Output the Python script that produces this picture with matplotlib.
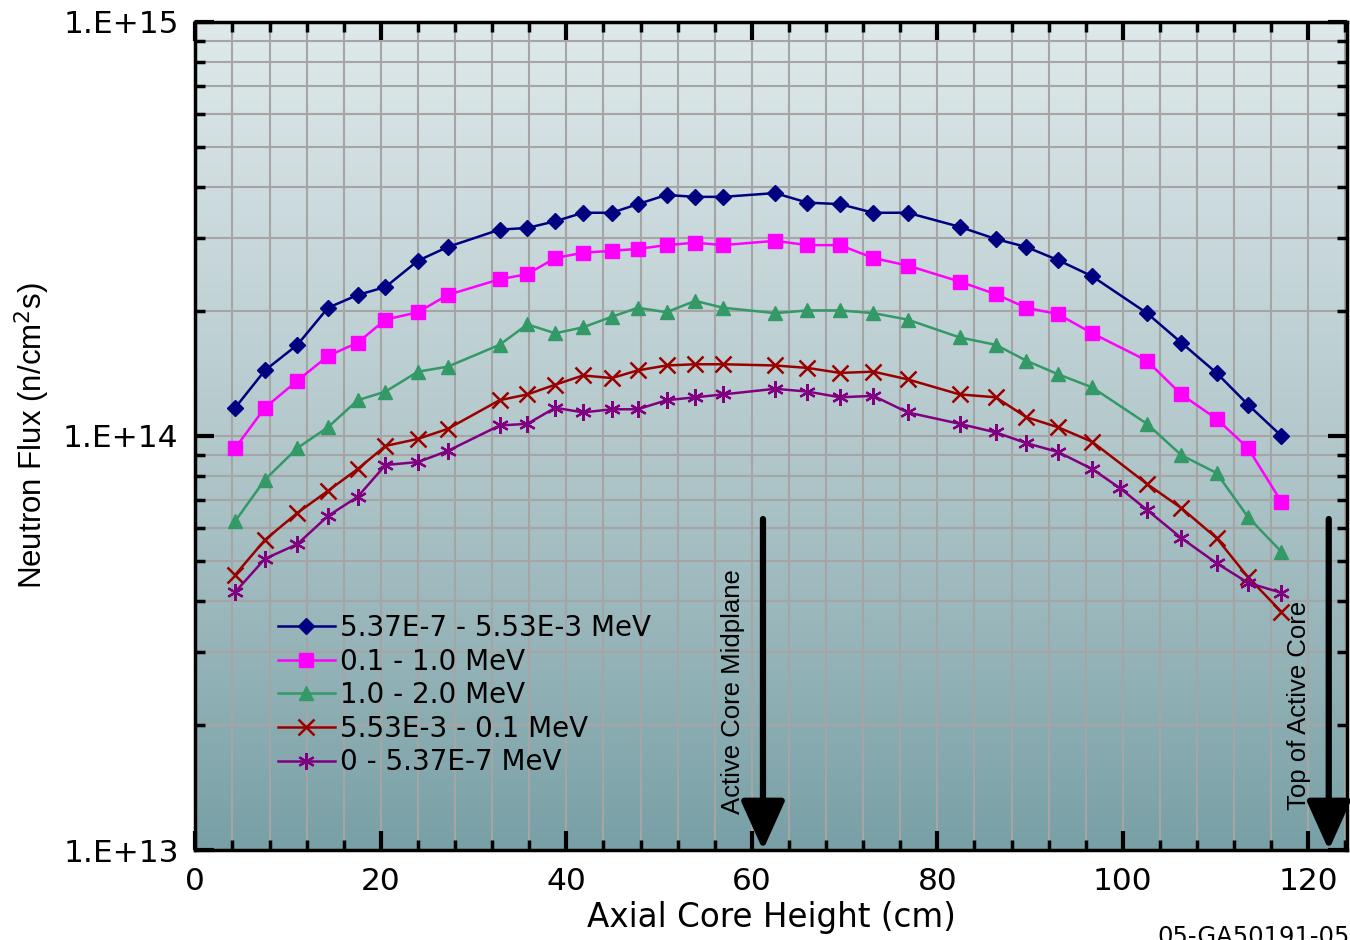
import numpy as np
import matplotlib
matplotlib.use('Agg')
import matplotlib.pyplot as plt
from matplotlib.ticker import MultipleLocator, LogLocator, NullFormatter
from matplotlib.colors import LinearSegmentedColormap

plt.rcParams['font.family'] = ['DejaVu Sans']
narrow = ['Liberation Sans', 'DejaVu Sans']

# axial positions (cm)
x = [4.3, 7.5, 11.0, 14.3, 17.5, 20.5, 24.0, 27.2, 32.8, 35.8, 38.8, 41.8,
     44.9, 47.7, 50.8, 53.9, 56.9, 62.5, 66.0, 69.5, 73.1, 76.8, 82.4, 86.3,
     89.6, 93.0, 96.7, 102.6, 106.3, 110.1, 113.5, 117.1]
x_thermal = x[:27] + [99.7] + x[27:]

# flux in n/cm2s
flux_epi = [1.17e14, 1.44e14, 1.66e14, 2.04e14, 2.19e14, 2.29e14, 2.65e14, 2.86e14,
            3.15e14, 3.18e14, 3.30e14, 3.46e14, 3.46e14, 3.63e14, 3.82e14, 3.78e14,
            3.78e14, 3.86e14, 3.66e14, 3.63e14, 3.46e14, 3.46e14, 3.20e14, 2.99e14,
            2.86e14, 2.66e14, 2.43e14, 1.98e14, 1.68e14, 1.42e14, 1.19e14, 1.00e14]
flux_01_1 = [9.35e13, 1.17e14, 1.36e14, 1.56e14, 1.68e14, 1.91e14, 1.99e14, 2.19e14,
             2.39e14, 2.46e14, 2.69e14, 2.77e14, 2.80e14, 2.83e14, 2.89e14, 2.93e14,
             2.89e14, 2.96e14, 2.89e14, 2.89e14, 2.69e14, 2.58e14, 2.36e14, 2.20e14,
             2.04e14, 1.97e14, 1.77e14, 1.52e14, 1.26e14, 1.10e14, 9.35e13, 6.93e13]
flux_1_2 = [6.23e13, 7.84e13, 9.35e13, 1.05e14, 1.22e14, 1.28e14, 1.43e14, 1.47e14,
            1.66e14, 1.86e14, 1.77e14, 1.83e14, 1.94e14, 2.04e14, 1.99e14, 2.12e14,
            2.04e14, 1.98e14, 2.01e14, 2.01e14, 1.98e14, 1.91e14, 1.73e14, 1.66e14,
            1.52e14, 1.41e14, 1.31e14, 1.07e14, 8.99e13, 8.14e13, 6.37e13, 5.25e13]
flux_553_01 = [4.62e13, 5.61e13, 6.52e13, 7.37e13, 8.32e13, 9.46e13, 9.84e13, 1.04e14,
               1.22e14, 1.26e14, 1.33e14, 1.40e14, 1.38e14, 1.44e14, 1.48e14, 1.49e14,
               1.49e14, 1.48e14, 1.46e14, 1.42e14, 1.43e14, 1.37e14, 1.26e14, 1.24e14,
               1.11e14, 1.05e14, 9.68e13, 7.66e13, 6.70e13, 5.67e13, 4.56e13, 3.76e13]
flux_thermal = [4.20e13, 5.05e13, 5.48e13, 6.41e13, 7.13e13, 8.51e13, 8.65e13, 9.20e13,
                1.06e14, 1.07e14, 1.17e14, 1.14e14, 1.16e14, 1.16e14, 1.22e14, 1.24e14,
                1.26e14, 1.30e14, 1.28e14, 1.24e14, 1.25e14, 1.14e14, 1.07e14, 1.02e14,
                9.61e13, 9.15e13, 8.32e13, 7.48e13, 6.63e13, 5.67e13, 4.93e13, 4.42e13, 4.18e13]

labels = ['5.37E-7 - 5.53E-3 MeV', '0.1 - 1.0 MeV', '1.0 - 2.0 MeV',
          '5.53E-3 - 0.1 MeV', '0 - 5.37E-7 MeV']

fig = plt.figure(figsize=(13.5, 9.4), dpi=100)
ax = fig.add_axes([0.1447, 0.0957, 0.8533, 0.881])

# background gradient
cmap = LinearSegmentedColormap.from_list('bg', ['#78a0a6', '#b4c9cc', '#dfe9eb'])
grad = np.linspace(0, 1, 256).reshape(-1, 1)
ax.imshow(grad, extent=[0, 1, 0, 1], transform=ax.transAxes, cmap=cmap,
          aspect='auto', origin='lower', zorder=0)

ax.plot(x, flux_epi, '-D', color='#000080', ms=8, lw=1.8, label=labels[0], zorder=3)
ax.plot(x, flux_01_1, '-s', color='#ff00ff', ms=10, lw=1.8, label=labels[1], zorder=3)
ax.plot(x, flux_1_2, '-^', color='#339966', ms=10, lw=1.8, label=labels[2], zorder=3)
ax.plot(x, flux_553_01, '-x', color='#990000', ms=11, mew=1.8, lw=1.8, label=labels[3], zorder=3)
ax.plot(x_thermal, flux_thermal, '-', marker=(6, 2, 0), color='#800080', ms=12, mew=1.6,
        lw=1.8, label=labels[4], zorder=3)

ax.set_yscale('log')
ax.set_xlim(0, 124.2)
ax.set_ylim(1e13, 1e15)

ax.set_xticks([0, 20, 40, 60, 80, 100, 120])
ax.xaxis.set_minor_locator(MultipleLocator(4))
ax.set_yticks([1e13, 1e14, 1e15])
ax.set_yticklabels(['1.E+13', '1.E+14', '1.E+15'])
ax.yaxis.set_minor_locator(LogLocator(base=10, subs=np.arange(2, 10)))
ax.yaxis.set_minor_formatter(NullFormatter())

ax.tick_params(which='major', direction='in', length=14, width=3, top=True, right=True,
               labelsize=22.5, pad=12)
ax.tick_params(which='minor', direction='in', length=7, width=2.5, top=True, right=True)
ax.grid(which='both', color='#a5a5a5', lw=1.5, zorder=0.5)
ax.set_axisbelow(True)
for s in ax.spines.values():
    s.set_linewidth(2.5)

ax.set_xlabel('Axial Core Height (cm)', fontsize=23.5, labelpad=4)
ax.set_ylabel('Neutron Flux (n/cm$^2$s)', fontsize=22.5, labelpad=8, family=narrow)

# annotations
for xa in (61.2, 122.2):
    ax.annotate('', xy=(xa, 1e13), xytext=(xa, 6.3e13),
                arrowprops=dict(arrowstyle='-|>,head_width=0.45,head_length=1.0',
                                lw=4.5, color='black', mutation_scale=30,
                                shrinkA=0, shrinkB=0), zorder=4)
ax.text(58.0, 1.22e13, 'Active Core Midplane', rotation=90, ha='center', va='bottom',
        fontsize=18.5, family=narrow)
ax.text(119.0, 1.25e13, 'Top of Active Core', rotation=90, ha='center', va='bottom',
        fontsize=18.5, family=narrow)

ax.legend(loc='upper left', bbox_to_anchor=(0.0715, 0.285), frameon=False, fontsize=20,
          handlelength=2.05, handletextpad=0.18, labelspacing=0.2, borderpad=0,
          borderaxespad=0)

fig.text(0.857, 0.0155, '05-GA50191-05', fontsize=17.5, ha='left', va='top')

fig.savefig('out.png', dpi=100)
